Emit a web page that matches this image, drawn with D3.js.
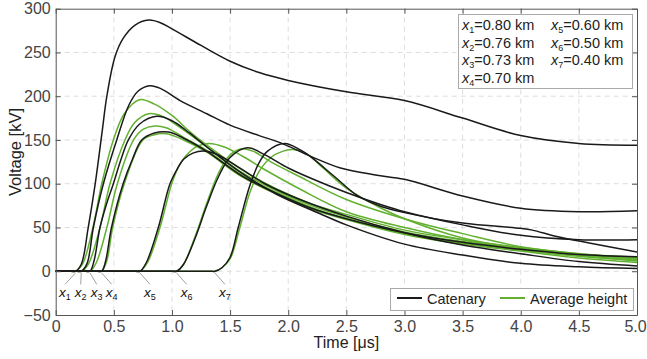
<!DOCTYPE html>
<html>
<head>
<meta charset="utf-8">
<script src="https://cdn.jsdelivr.net/npm/d3@7"></script>
<style>
body { margin: 0; background: #fff; }
text { font-family: "Liberation Sans", Arial, sans-serif; }
</style>
</head>
<body>
<div id="chart"></div>
<script>
"use strict";

// tick values and labels
var xTicks = [0, 0.5, 1.0, 1.5, 2.0, 2.5, 3.0, 3.5, 4.0, 4.5, 5.0];
var xTickLabels = ["0", "0.5", "1.0", "1.5", "2.0", "2.5", "3.0", "3.5", "4.0", "4.5", "5.0"];
var yTicks = [-50, 0, 50, 100, 150, 200, 250, 300];

// distances of the observation points
var pointNames = ["1", "2", "3", "4", "5", "6", "7"];
var pointDistances = ["0.80", "0.76", "0.73", "0.70", "0.60", "0.50", "0.40"];
var onsetTimes = [0.17, 0.22, 0.295, 0.396, 0.725, 1.04, 1.37];
var labelTimes = [0.08, 0.215, 0.353, 0.482, 0.811, 1.127, 1.456];

// catenary voltages [time us, kV], one series per point x1..x7
var catenarySeries = [
    [[0,0],[0.13,0],[0.17,0],[0.22,8],[0.28,50],[0.34,100],[0.40,160],[0.44,200],[0.51,245],[0.58,266],[0.68,281],[0.8,287],[0.9,284],[1.0,277],[1.25,258],[1.5,240],[1.75,227],[2.0,218],[2.5,205],[3.0,195],[3.5,175],[4.0,155],[4.5,146],[5.0,144]],
    [[0,0],[0.18,0],[0.22,0],[0.27,9],[0.324,50],[0.41,100],[0.525,150],[0.63,190],[0.71,206],[0.81,212],[0.9,209],[1.07,195],[1.3,180],[1.5,167],[1.75,155],[1.93,147],[2.2,131],[2.45,118],[2.75,110],[3.0,105],[3.5,86],[4.0,72],[4.5,68],[5.0,69]],
    [[0,0],[0.255,0],[0.295,0],[0.33,12],[0.381,50],[0.44,78],[0.496,100],[0.56,127],[0.625,150],[0.72,168],[0.87,177],[1.0,172],[1.15,158],[1.3,142],[1.6,112],[1.9,88],[2.27,66],[2.5,53],[3.0,31],[3.5,18.5],[4.0,9],[4.5,5],[5.0,3]],
    [[0,0],[0.356,0],[0.396,0],[0.43,12],[0.48,50],[0.58,100],[0.66,128],[0.74,150],[0.85,158],[0.97,159],[1.1,152],[1.3,137],[1.6,109],[1.9,89],[2.2,72],[2.5,60],[3.0,44],[3.5,33],[4.0,25],[4.5,19],[5.0,16.6]],
    [[0,0],[0.685,0],[0.725,0],[0.78,10],[0.883,50],[0.983,100],[1.05,118],[1.10,128],[1.18,135],[1.27,137.5],[1.38,134],[1.5,125],[1.8,100],[2.1,82],[2.5,63],[3.0,44],[3.5,30],[4.0,20],[4.5,11],[5.0,6]],
    [[0,0],[1.0,0],[1.04,0],[1.1,8],[1.2,38],[1.3,75],[1.4,108],[1.5,130],[1.65,141],[1.8,133],[2.0,118],[2.2,106],[2.5,90],[2.8,76],[3.0,68],[3.5,53],[4.0,41],[4.5,36],[5.0,36]],
    [[0,0],[1.33,0],[1.37,0],[1.43,4],[1.5,16],[1.57,50],[1.67,98],[1.75,124],[1.82,137],[1.97,146],[2.1,139],[2.2,130],[2.4,108],[2.6,86],[2.8,74],[3.0,67],[3.5,55],[4.0,49],[4.1,47],[4.3,40],[4.6,32],[5.0,22]]
];

// average height voltages [time us, kV]
var averageSeries = [
    [[0,0],[0.13,0],[0.17,0],[0.23,8],[0.32,50],[0.396,100],[0.496,150],[0.59,180],[0.72,196],[0.85,191],[1.0,178],[1.15,160],[1.3,144],[1.6,116],[1.9,94],[2.2,77],[2.5,65],[3.0,47],[3.5,36],[4.0,27],[4.5,20],[5.0,15]],
    [[0,0],[0.18,0],[0.22,0],[0.28,8],[0.381,50],[0.467,100],[0.596,150],[0.68,170],[0.8,180],[0.92,177],[1.05,166],[1.3,142],[1.6,113],[1.9,92],[2.2,75],[2.5,62],[3.0,45],[3.5,34],[4.0,26],[4.5,18],[5.0,13]],
    [[0,0],[0.255,0],[0.295,0],[0.35,10],[0.44,50],[0.53,100],[0.67,150],[0.75,162],[0.85,166],[0.95,164],[1.1,153],[1.3,138],[1.6,110],[1.9,90],[2.2,73],[2.5,60],[3.0,43],[3.5,32],[4.0,24],[4.5,17],[5.0,12]],
    [[0,0],[0.356,0],[0.396,0],[0.44,12],[0.49,50],[0.59,100],[0.75,150],[0.85,156],[0.95,157],[1.1,150],[1.3,136],[1.6,108],[1.9,88],[2.2,71],[2.5,59],[3.0,42],[3.5,31],[4.0,23],[4.5,15],[5.0,10]],
    [[0,0],[0.685,0],[0.725,0],[0.79,10],[0.897,50],[0.998,100],[1.06,120],[1.12,132],[1.22,143],[1.32,146],[1.45,142],[1.6,132],[1.8,116],[2.1,94],[2.5,68],[3.0,50],[3.5,36],[4.0,26],[4.5,19],[5.0,14]],
    [[0,0],[1.0,0],[1.04,0],[1.1,8],[1.2,40],[1.3,78],[1.4,112],[1.5,133],[1.6,140],[1.7,137],[1.85,125],[2.1,108],[2.5,82],[3.05,58],[3.5,43],[4.0,28],[4.5,20],[5.0,16]],
    [[0,0],[1.33,0],[1.37,0],[1.43,4],[1.5,14],[1.58,48],[1.67,90],[1.75,114],[1.85,130],[1.95,137],[2.04,139],[2.15,135],[2.3,118],[2.5,95],[2.8,72],[3.0,60],[3.5,38],[4.0,26],[4.5,18],[5.0,12]]
];

var legendNames = ["Catenary", "Average height"];

// svg parameters
var svgWidth = 647;
var svgHeight = 359;
var margin = {left: 55.7, right: 10, top: 8.7, bottom: 44};
var blackColor = "#1a1a1a";
var greenColor = "#62b030";

var svg = d3.select("#chart").append("svg").attr("width", svgWidth).attr("height", svgHeight);

var x = d3.scaleLinear().domain([0, 5]).range([margin.left, svgWidth - margin.right]);
var y = d3.scaleLinear().domain([-50, 300]).range([svgHeight - margin.bottom, margin.top]);

// dashed grid
var grid = svg.append("g").attr("class", "grid");
grid.selectAll("line.vg").data(xTicks.slice(1, -1)).enter().append("line")
    .attr("x1", function (d) { return x(d); }).attr("x2", function (d) { return x(d); })
    .attr("y1", y(300)).attr("y2", y(-50))
    .attr("stroke", "#dedede").attr("stroke-dasharray", "5,4");
grid.selectAll("line.hg").data(yTicks.slice(1, -1)).enter().append("line")
    .attr("x1", x(0)).attr("x2", x(5))
    .attr("y1", function (d) { return y(d); }).attr("y2", function (d) { return y(d); })
    .attr("stroke", "#dedede").attr("stroke-dasharray", "5,4");

// curves
var line = d3.line()
    .x(function (d) { return x(d[0]); })
    .y(function (d) { return y(d[1]); })
    .curve(d3.curveCatmullRom.alpha(0.5));

svg.append("g").selectAll("path").data(averageSeries).enter().append("path")
    .attr("d", line).attr("fill", "none").attr("stroke", greenColor).attr("stroke-width", 1.5);
svg.append("g").selectAll("path").data(catenarySeries).enter().append("path")
    .attr("d", line).attr("fill", "none").attr("stroke", blackColor).attr("stroke-width", 1.5);

// axes with inward ticks
function styleAxis(g) {
    g.selectAll(".domain").attr("stroke", "#555");
    g.selectAll(".tick line").attr("stroke", "#555");
    g.selectAll(".tick text").attr("fill", "#444").attr("font-size", 16)
        .attr("font-family", "Liberation Sans, Arial, sans-serif");
}

var xAxisGroup = svg.append("g").attr("transform", "translate(0," + y(-50) + ")")
    .call(d3.axisBottom(x).tickValues(xTicks).tickFormat(function (d, i) { return xTickLabels[i]; })
        .tickSize(-5).tickSizeOuter(0).tickPadding(6))
    .call(styleAxis);
// keep the last label inside the picture
xAxisGroup.selectAll(".tick text").filter(function (d) { return d === 5; }).attr("dx", -2);

svg.append("g").attr("transform", "translate(" + x(0) + ",0)")
    .call(d3.axisLeft(y).tickValues(yTicks).tickSize(-5).tickSizeOuter(0).tickPadding(5))
    .call(styleAxis);
svg.append("g").attr("transform", "translate(0," + y(300) + ")")
    .call(d3.axisTop(x).tickValues(xTicks).tickFormat("").tickSize(-5).tickSizeOuter(0))
    .call(styleAxis);
svg.append("g").attr("transform", "translate(" + x(5) + ",0)")
    .call(d3.axisRight(y).tickValues(yTicks).tickFormat("").tickSize(-5).tickSizeOuter(0))
    .call(styleAxis);

// axis titles
svg.append("text").attr("x", (x(0) + x(5)) / 2).attr("y", 348)
    .attr("text-anchor", "middle").attr("font-size", 16).attr("fill", "#222").text("Time [μs]");
svg.append("text").attr("transform", "translate(21,152) rotate(-90)")
    .attr("text-anchor", "middle").attr("font-size", 16.5).attr("fill", "#222").text("Voltage [kV]");

// onset labels with leader lines
var onsetGroup = svg.append("g");
onsetGroup.selectAll("line").data(onsetTimes).enter().append("line")
    .attr("x1", function (d) { return x(d); }).attr("y1", y(-2))
    .attr("x2", function (d, i) { return x(labelTimes[i]); }).attr("y2", y(-15))
    .attr("stroke", "#888").attr("stroke-width", 0.8);
var onsetText = onsetGroup.selectAll("text").data(pointNames).enter().append("text")
    .attr("x", function (d, i) { return x(labelTimes[i]); }).attr("y", y(-29))
    .attr("text-anchor", "middle").attr("font-size", 13.5).attr("fill", "#111");
onsetText.append("tspan").attr("font-style", "italic").text("x");
onsetText.append("tspan").attr("font-size", 9).attr("dy", 3).text(function (d) { return d; });

// distance legend
var distLegend = svg.append("g");
distLegend.append("rect").attr("x", 458.5).attr("y", 14.5).attr("width", 174).attr("height", 74)
    .attr("fill", "#fff").attr("stroke", "#aaa");
var distText = distLegend.selectAll("text").data(pointNames).enter().append("text")
    .attr("x", function (d, i) { return i < 4 ? 462 : 551; })
    .attr("y", function (d, i) { return 30 + (i % 4) * 17.6; })
    .attr("font-size", 14.5).attr("fill", "#222");
distText.append("tspan").attr("font-style", "italic").text("x");
distText.append("tspan").attr("font-size", 9).attr("dy", 3).text(function (d) { return d; });
distText.append("tspan").attr("dy", -3).text(function (d, i) { return "=" + pointDistances[i] + " km"; });

// series legend
var seriesLegend = svg.append("g");
seriesLegend.append("rect").attr("x", 390.5).attr("y", 288.5).attr("width", 243).attr("height", 22)
    .attr("fill", "#fff").attr("stroke", "#aaa");
var legendX = [397, 500];
var legendColors = [blackColor, greenColor];
seriesLegend.selectAll("line").data(legendNames).enter().append("line")
    .attr("x1", function (d, i) { return legendX[i]; }).attr("x2", function (d, i) { return legendX[i] + 25; })
    .attr("y1", 298).attr("y2", 298)
    .attr("stroke", function (d, i) { return legendColors[i]; }).attr("stroke-width", 2);
seriesLegend.selectAll("text").data(legendNames).enter().append("text")
    .attr("x", function (d, i) { return legendX[i] + 30; }).attr("y", 303.5)
    .attr("font-size", 14.5).attr("fill", "#222").text(function (d) { return d; });
</script>
</body>
</html>
